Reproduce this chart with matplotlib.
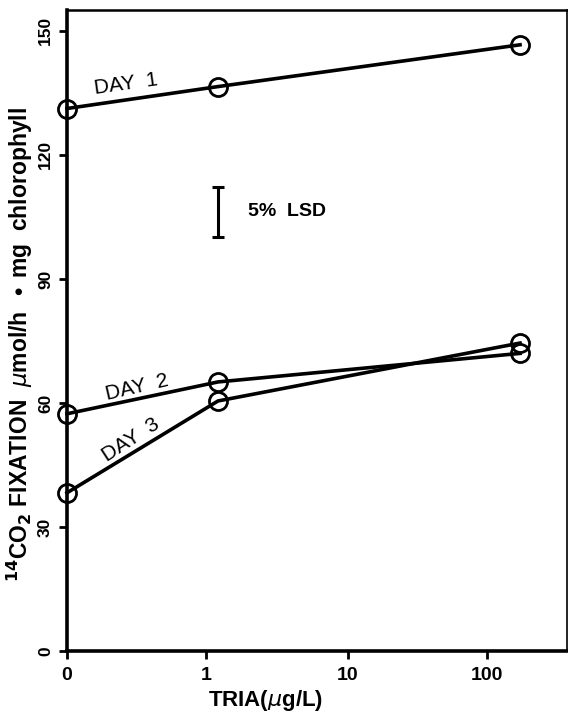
import matplotlib
matplotlib.use("Agg")
import matplotlib.pyplot as plt

plt.rcParams['font.family'] = ['Liberation Sans', 'DejaVu Sans']

# TRIA doses (ug/L) plotted on a decade scale: 0 -> 0, 1 -> 1, 100 -> 3
dose_pos = [0, 1, 3]
day1 = [131.2, 136.5, 146.6]
day2 = [57.4, 65.1, 72.0]
day3 = [38.3, 60.5, 74.5]

x_tick_pos = [0, 0.92, 1.86, 2.78]
x_tick_labels = ["0", "1", "10", "100"]
y_ticks = [0, 30, 60, 90, 120, 150]

lsd_x = 1.0
lsd_low, lsd_high = 100.2, 112.2

fig = plt.figure(figsize=(5.68, 7.18), dpi=100)
ax = fig.add_axes([0.118, 0.093, 0.880, 0.893])

for ys in [day1, day2, day3]:
    ax.plot(dose_pos, ys, color="black", lw=2.6, marker="o", ms=13,
            mfc="none", mec="black", mew=2.0, clip_on=False, zorder=3)

# LSD bar
ax.errorbar([lsd_x], [(lsd_low + lsd_high) / 2], yerr=[(lsd_high - lsd_low) / 2],
            fmt="none", ecolor="black", elinewidth=2.2, capsize=4, capthick=2.2)
ax.text(1.2, 106.2, "5%  LSD", fontsize=14, fontweight="bold", va="center", ha="left")

# curve labels
ax.text(0.39, 137.0, "DAY  1", fontsize=15, rotation=8, ha="center", va="center")
ax.text(0.46, 63.8, "DAY  2", fontsize=15, rotation=13, ha="center", va="center")
ax.text(0.42, 51.0, "DAY  3", fontsize=15, rotation=33, ha="center", va="center")

ax.set_xlim(0, 3.31)
ax.set_ylim(0, 155)
ax.set_xticks(x_tick_pos)
ax.set_xticklabels(x_tick_labels, fontsize=14, fontweight="bold")
ax.set_yticks(y_ticks)
ax.set_yticklabels([str(v) for v in y_ticks], fontsize=12.5, fontweight="bold",
                   rotation=90, va="center")
ax.tick_params(axis="both", direction="out", length=6, width=2, color="black")
ax.tick_params(axis="x", pad=5)
ax.tick_params(axis="y", pad=4)

ax.spines["left"].set_linewidth(2.6)
ax.spines["bottom"].set_linewidth(2.6)
ax.spines["top"].set_linewidth(1.8)
ax.spines["right"].set_linewidth(1.2)

fig.text(0.467, 0.024, r"TRIA($\mu$g/L)", fontsize=16, fontweight="bold",
         ha="center", va="center")
fig.text(0.035, 0.52, r"$^{\mathbf{14}}$CO$_{\mathbf{2}}$ FIXATION  $\mu$mol/h  $\bullet$ mg  chlorophyll",
         fontsize=16.5, fontweight="bold", rotation=90, ha="center", va="center")

fig.savefig("out.png", dpi=100)
